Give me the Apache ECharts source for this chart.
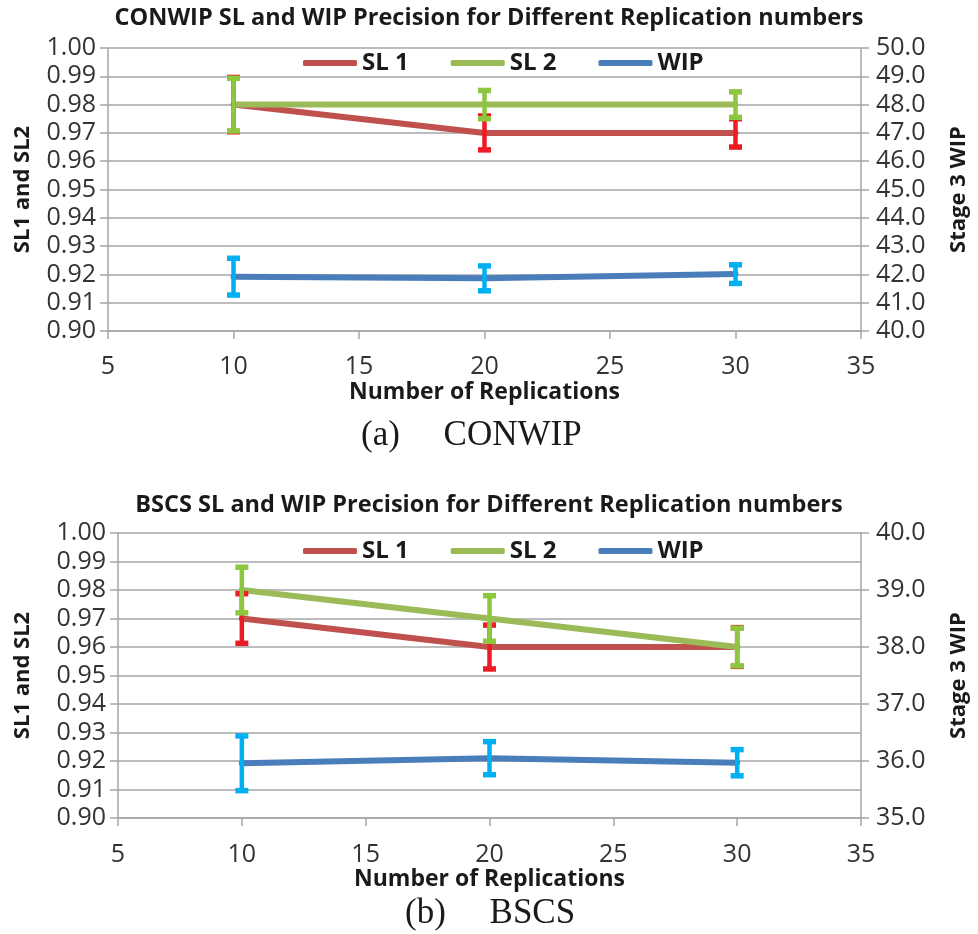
<!DOCTYPE html>
<html>
<head>
<meta charset="utf-8">
<script src="https://cdn.jsdelivr.net/npm/echarts@6/dist/echarts.min.js"></script>
<style>
  html, body { margin: 0; padding: 0; background: #fff; }
  #main { width: 978px; height: 934px; }
</style>
</head>
<body>
<div id="main"></div>
<script>
(function() {

  // replication numbers on the x axis
  var reps = [10, 20, 30];

  // (a) CONWIP
  var conwipSL1 = [0.98, 0.97, 0.97];
  var conwipSL1Err = [0.0096, 0.006, 0.005];
  var conwipSL2 = [0.98, 0.98, 0.98];
  var conwipSL2Err = [0.0093, 0.005, 0.0045];
  var conwipWIP = [41.92, 41.86, 42.01];
  var conwipWIPErr = [0.65, 0.44, 0.33];

  // (b) BSCS
  var bscsSL1 = [0.97, 0.96, 0.96];
  var bscsSL1Err = [0.0087, 0.0077, 0.0068];
  var bscsSL2 = [0.98, 0.97, 0.96];
  var bscsSL2Err = [0.008, 0.008, 0.0066];
  var bscsWIP = [35.96, 36.05, 35.97];
  var bscsWIPErr = [0.48, 0.29, 0.23];

  var legendNames = ['SL 1', 'SL 2', 'WIP'];

  var lineColors = ['#C0504D', '#9BBB59', '#4A7EBB'];
  var errColors = ['#ED1C24', '#8DC63F', '#00B0F0'];

  var font = "'Open Sans', 'Liberation Sans', sans-serif";
  var gridColor = '#A6A6A6';

  var chartDom = document.getElementById('main');
  var chart = echarts.init(chartDom);

  function pairs(vals) {
    var out = [];
    for (var i = 0; i < reps.length; i++) out.push([reps[i], vals[i]]);
    return out;
  }

  function errData(vals, errs) {
    var out = [];
    for (var i = 0; i < reps.length; i++) out.push([reps[i], vals[i] - errs[i], vals[i] + errs[i]]);
    return out;
  }

  // error bar drawn with the axis scales
  function errRender(color) {
    return function(params, api) {
      var x = api.value(0);
      var top = api.coord([x, api.value(2)]);
      var bot = api.coord([x, api.value(1)]);
      var hw = 6.5;
      return {
        type: 'group',
        children: [
          { type: 'line', shape: { x1: top[0], y1: top[1], x2: bot[0], y2: bot[1] }, style: { stroke: color, lineWidth: 4.5 } },
          { type: 'line', shape: { x1: top[0] - hw, y1: top[1], x2: top[0] + hw, y2: top[1] }, style: { stroke: color, lineWidth: 5.5 } },
          { type: 'line', shape: { x1: bot[0] - hw, y1: bot[1], x2: bot[0] + hw, y2: bot[1] }, style: { stroke: color, lineWidth: 5.5 } }
        ]
      };
    };
  }

  function xAxisFor(idx, gap, margin) {
    return {
      type: 'value', gridIndex: idx, min: 5, max: 35, interval: 5,
      name: 'Number of Replications', nameLocation: 'middle', nameGap: gap,
      nameTextStyle: { fontFamily: font, fontWeight: 'bold', fontSize: 23, color: '#1a1a1a' },
      axisLine: { show: true, lineStyle: { color: gridColor, width: 1.5 } },
      axisTick: { show: true, length: 8, lineStyle: { color: gridColor, width: 1.5 } },
      axisLabel: { margin: margin, fontFamily: font, fontSize: 25, color: '#333' },
      splitLine: { show: false }
    };
  }

  function leftAxis(idx, gap) {
    return {
      type: 'value', gridIndex: idx, min: 0.9, max: 1.0, interval: 0.01,
      name: 'SL1 and SL2', nameLocation: 'middle', nameGap: gap,
      nameTextStyle: { fontFamily: font, fontWeight: 'bold', fontSize: 22, color: '#1a1a1a' },
      axisLine: { show: true, lineStyle: { color: gridColor, width: 1.5 } },
      axisTick: { show: true, length: 8, lineStyle: { color: gridColor, width: 1.5 } },
      axisLabel: { margin: 12, fontFamily: font, fontSize: 25, color: '#333',
        formatter: function(v) { return v.toFixed(2); } },
      splitLine: { show: true, lineStyle: { color: gridColor, width: 1.5 } }
    };
  }

  function rightAxis(idx, mn, mx) {
    return {
      type: 'value', gridIndex: idx, position: 'right', min: mn, max: mx, interval: 1,
      name: 'Stage 3 WIP', nameLocation: 'middle', nameGap: 87,
      nameTextStyle: { fontFamily: font, fontWeight: 'bold', fontSize: 22, color: '#1a1a1a' },
      axisLine: { show: true, lineStyle: { color: gridColor, width: 1.5 } },
      axisTick: { show: true, length: 8, lineStyle: { color: gridColor, width: 1.5 } },
      axisLabel: { margin: 15, fontFamily: font, fontSize: 25, color: '#333',
        formatter: function(v) { return v.toFixed(1); } },
      splitLine: { show: false }
    };
  }

  function lineSeries(name, vals, ci, xi, yi) {
    return {
      name: name, type: 'line', xAxisIndex: xi, yAxisIndex: yi,
      data: pairs(vals), symbol: 'none', animation: false,
      lineStyle: { color: lineColors[ci], width: 6, cap: 'round' },
      itemStyle: { color: lineColors[ci] }, z: 3
    };
  }

  function errSeries(name, vals, errs, ci, xi, yi) {
    return {
      name: name, type: 'custom', xAxisIndex: xi, yAxisIndex: yi,
      data: errData(vals, errs), renderItem: errRender(errColors[ci]),
      encode: { x: 0, y: [1, 2] }, animation: false, z: 4, silent: true
    };
  }

  function legendFor(top) {
    return {
      data: legendNames, left: 298, top: top, icon: 'roundRect',
      itemWidth: 54, itemHeight: 6, itemGap: 42,
      textStyle: { fontFamily: font, fontWeight: 'bold', fontSize: 24, color: '#1a1a1a' },
      selectedMode: false
    };
  }

  var titleStyle = { fontFamily: font, fontWeight: 'bold', fontSize: 23.5, color: '#1a1a1a' };
  var captionStyle = { fontFamily: "'Liberation Serif', 'DejaVu Serif', serif", fontWeight: 'normal', fontSize: 35, color: '#1a1a1a' };

  var option = {
    backgroundColor: '#fff',
    title: [
      { text: 'CONWIP SL and WIP Precision for Different Replication numbers', left: 'center', top: 1, textStyle: titleStyle },
      { text: '(a)     CONWIP', left: 356, top: 413, textStyle: captionStyle },
      { text: 'BSCS SL and WIP Precision for Different Replication numbers', left: 'center', top: 488, textStyle: titleStyle },
      { text: '(b)     BSCS', left: 400, top: 891, textStyle: captionStyle }
    ],
    legend: [legendFor(46), legendFor(534)],
    grid: [
      { left: 108, right: 105, top: 48, height: 283 },
      { left: 118, right: 105, top: 533, height: 285 }
    ],
    xAxis: [xAxisFor(0, 50, 23), xAxisFor(1, 47, 24)],
    yAxis: [leftAxis(0, 74), rightAxis(0, 40, 50), leftAxis(1, 84), rightAxis(1, 35, 40)],
    series: [
      lineSeries('SL 1', conwipSL1, 0, 0, 0),
      lineSeries('SL 2', conwipSL2, 1, 0, 0),
      lineSeries('WIP', conwipWIP, 2, 0, 1),
      errSeries('SL 1', conwipSL1, conwipSL1Err, 0, 0, 0),
      errSeries('SL 2', conwipSL2, conwipSL2Err, 1, 0, 0),
      errSeries('WIP', conwipWIP, conwipWIPErr, 2, 0, 1),
      lineSeries('SL 1', bscsSL1, 0, 1, 2),
      lineSeries('SL 2', bscsSL2, 1, 1, 2),
      lineSeries('WIP', bscsWIP, 2, 1, 3),
      errSeries('SL 1', bscsSL1, bscsSL1Err, 0, 1, 2),
      errSeries('SL 2', bscsSL2, bscsSL2Err, 1, 1, 2),
      errSeries('WIP', bscsWIP, bscsWIPErr, 2, 1, 3)
    ]
  };

  chart.setOption(option);

})();
</script>
</body>
</html>
